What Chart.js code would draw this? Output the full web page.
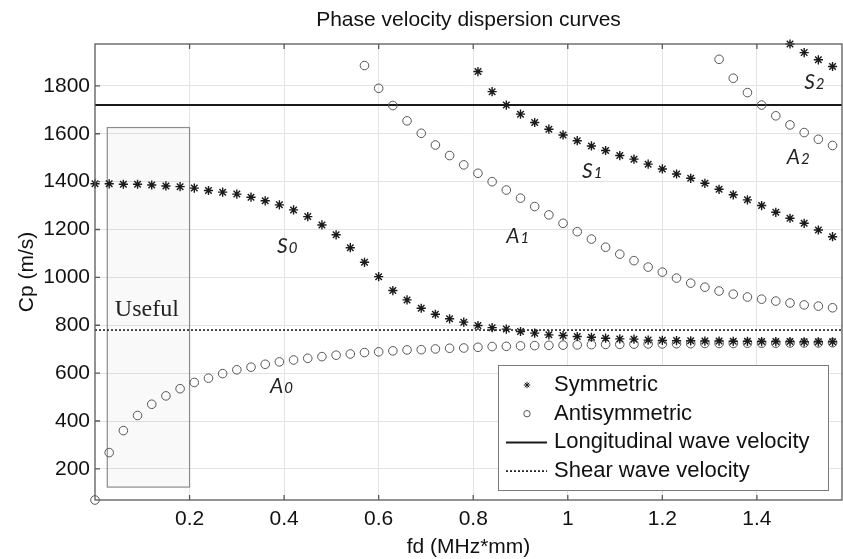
<!DOCTYPE html>
<html>
<head>
<meta charset="utf-8">
<title>Phase velocity dispersion curves</title>
<script src="https://cdn.jsdelivr.net/npm/chart.js@4.4.1/dist/chart.umd.min.js"></script>
<style>
  html, body { margin: 0; padding: 0; background: #fff; overflow: hidden; }
  #wrap { width: 848px; height: 559px; }
</style>
</head>
<body>
<div id="wrap"><canvas id="chart"></canvas></div>
<script>
// fd (MHz*mm) sample points used by the solver
const fdFull = [0, 0.03, 0.06, 0.09, 0.12, 0.15, 0.18, 0.21, 0.24, 0.27, 0.30, 0.33, 0.36, 0.39, 0.42, 0.45, 0.48, 0.51,
  0.54, 0.57, 0.60, 0.63, 0.66, 0.69, 0.72, 0.75, 0.78, 0.81, 0.84, 0.87, 0.90, 0.93, 0.96, 0.99, 1.02, 1.05,
  1.08, 1.11, 1.14, 1.17, 1.20, 1.23, 1.26, 1.29, 1.32, 1.35, 1.38, 1.41, 1.44, 1.47, 1.50, 1.53, 1.56];

// phase velocity Cp (m/s) per mode
const cpS0 = [1391, 1391, 1389, 1389, 1386, 1382, 1379, 1373, 1363, 1356, 1348, 1335, 1320, 1303, 1282, 1254, 1219, 1178,
  1124, 1063, 1003, 945, 906, 871, 846, 827, 813, 799, 790, 784, 774, 767, 760, 757, 753, 750,
  746, 743, 742, 738, 737, 736, 735, 734, 734, 733, 733, 732, 732, 732, 731, 731, 731];
const cpA0 = [70, 268, 360, 423, 470, 505, 535, 561, 579, 598, 614, 625, 637, 647, 655, 662, 669, 675,
  680, 686, 689, 693, 697, 698, 701, 704, 705, 708, 711, 712, 714, 715, 716, 717, 718, 719,
  720, 720, 721, 722, 722, 723, 723, 724, 724, 724, 725, 725, 725, 726, 726, 726, 727];

const fdA1 = [0.57, 0.60, 0.63, 0.66, 0.69, 0.72, 0.75, 0.78, 0.81, 0.84, 0.87, 0.90, 0.93, 0.96, 0.99, 1.02, 1.05,
  1.08, 1.11, 1.14, 1.17, 1.20, 1.23, 1.26, 1.29, 1.32, 1.35, 1.38, 1.41, 1.44, 1.47, 1.50, 1.53, 1.56];
const cpA1 = [1885, 1790, 1718, 1654, 1602, 1553, 1509, 1470, 1435, 1400, 1365, 1331, 1296, 1261, 1226, 1191, 1160,
  1126, 1097, 1070, 1043, 1022, 997, 976, 959, 943, 930, 918, 909, 901, 893, 885, 880, 873];

const fdS1 = [0.81, 0.84, 0.87, 0.90, 0.93, 0.96, 0.99, 1.02, 1.05, 1.08, 1.11, 1.14, 1.17, 1.20, 1.23, 1.26, 1.29,
  1.32, 1.35, 1.38, 1.41, 1.44, 1.47, 1.50, 1.53, 1.56];
const cpS1 = [1860, 1776, 1720, 1682, 1647, 1619, 1595, 1571, 1549, 1530, 1509, 1494, 1473, 1453, 1432, 1414, 1393,
  1368, 1345, 1324, 1300, 1272, 1247, 1226, 1198, 1170];

const fdA2 = [1.32, 1.35, 1.38, 1.41, 1.44, 1.47, 1.50, 1.53, 1.56];
const cpA2 = [1911, 1832, 1772, 1720, 1675, 1637, 1605, 1577, 1551];

const fdS2 = [1.47, 1.50, 1.53, 1.56];
const cpS2 = [1975, 1939, 1909, 1881];

const longitudinalCp = 1720;
const shearCp = 780;

const xTicks = [0.2, 0.4, 0.6, 0.8, 1, 1.2, 1.4];
const yTicks = [200, 400, 600, 800, 1000, 1200, 1400, 1600, 1800];
const xRange = [0, 1.58];
const yRange = [70, 1975];

// mode names and where they are written (fd, Cp)
const modeLetters = ['S', 'A', 'A', 'S', 'A', 'S'];
const modeDigits = ['0', '0', '1', '1', '2', '2'];
const modeFd = [0.385, 0.37, 0.87, 1.03, 1.463, 1.50];
const modeCp = [1102, 518, 1144, 1416, 1474, 1787];

// the "Useful" window
const usefulFd = [0.026, 0.2];
const usefulCp = [124, 1626];
const usefulTextAt = [0.042, 840];

const pts = (xs, ys) => xs.map((x, i) => ({ x, y: ys[i] }));

Chart.defaults.font.family = '"Liberation Sans", Arial, sans-serif';
Chart.defaults.color = '#111';

const decor = {
  id: 'decor',
  beforeDatasetsDraw(chart) {
    const { ctx, scales: { x, y } } = chart;
    const l = x.getPixelForValue(usefulFd[0]), r = x.getPixelForValue(usefulFd[1]);
    const t = y.getPixelForValue(usefulCp[1]), b = y.getPixelForValue(usefulCp[0]);
    ctx.save();
    ctx.fillStyle = 'rgba(0,0,0,0.025)';
    ctx.fillRect(l, t, r - l, b - t);
    ctx.strokeStyle = '#8c8c8c';
    ctx.lineWidth = 1.2;
    ctx.strokeRect(l, t, r - l, b - t);
    ctx.fillStyle = '#222';
    ctx.font = '24px "Liberation Serif", "Times New Roman", serif';
    ctx.textBaseline = 'alphabetic';
    ctx.fillText('Useful', x.getPixelForValue(usefulTextAt[0]), y.getPixelForValue(usefulTextAt[1]));
    ctx.restore();
  },
  afterDatasetsDraw(chart) {
    const { ctx, chartArea: a, scales: { x, y } } = chart;
    ctx.save();
    // axes box + inward ticks
    ctx.strokeStyle = '#5a5a5a';
    ctx.lineWidth = 1.3;
    ctx.strokeRect(a.left, a.top, a.right - a.left, a.bottom - a.top);
    ctx.beginPath();
    xTicks.forEach(v => {
      const px = x.getPixelForValue(v);
      ctx.moveTo(px, a.bottom); ctx.lineTo(px, a.bottom - 5);
      ctx.moveTo(px, a.top); ctx.lineTo(px, a.top + 5);
    });
    yTicks.forEach(v => {
      const py = y.getPixelForValue(v);
      ctx.moveTo(a.left, py); ctx.lineTo(a.left + 5, py);
    });
    ctx.stroke();

    // mode labels
    ctx.fillStyle = '#222';
    ctx.textBaseline = 'alphabetic';
    modeLetters.forEach((m, i) => {
      const px = x.getPixelForValue(modeFd[i]), py = y.getPixelForValue(modeCp[i]);
      ctx.font = 'italic 21px Lato, "Open Sans", sans-serif';
      ctx.fillText(m, px, py);
      const w = ctx.measureText(m).width;
      ctx.font = 'italic 15px Lato, "Open Sans", sans-serif';
      ctx.fillText(modeDigits[i], px + w + 1, py);
    });

    // legend
    const lw = 330, lh = 125;
    const left = a.right - 14 - lw, top = a.bottom - 10 - lh;
    ctx.fillStyle = '#fff';
    ctx.fillRect(left, top, lw, lh);
    ctx.strokeStyle = '#7a7a7a';
    ctx.lineWidth = 1;
    ctx.strokeRect(left + 0.5, top + 0.5, lw, lh);
    ctx.font = '22px "Liberation Sans", Arial, sans-serif';
    ctx.textBaseline = 'middle';
    chart.data.datasets.forEach((ds, i) => {
      const cy = top + 20 + i * 28.7;
      ctx.strokeStyle = ds.borderColor;
      if (ds.showLine) {
        ctx.lineWidth = ds.borderWidth;
        ctx.setLineDash(ds.borderDash || []);
        ctx.beginPath();
        ctx.moveTo(left + 8, cy); ctx.lineTo(left + 49, cy);
        ctx.stroke();
        ctx.setLineDash([]);
      } else {
        ctx.fillStyle = 'rgba(0,0,0,0)';
        Chart.helpers.drawPoint(ctx, { pointStyle: ds.pointStyle, radius: 3.2, borderWidth: 1, rotation: 0 }, left + 29, cy);
      }
      ctx.fillStyle = '#111';
      ctx.fillText(ds.label, left + 56, cy);
    });
    ctx.restore();
  }
};

new Chart(document.getElementById('chart'), {
  type: 'scatter',
  data: {
    datasets: [
      { label: 'Symmetric', data: [...pts(fdFull, cpS0), ...pts(fdS1, cpS1), ...pts(fdS2, cpS2)],
        pointStyle: 'star', pointRadius: 4.6, borderColor: '#1a1a1a', borderWidth: 1.4, clip: false },
      { label: 'Antisymmetric', data: [...pts(fdFull, cpA0), ...pts(fdA1, cpA1), ...pts(fdA2, cpA2)],
        pointStyle: 'circle', pointRadius: 4.3, borderColor: '#555', backgroundColor: 'rgba(0,0,0,0)', borderWidth: 1, clip: false },
      { label: 'Longitudinal wave velocity', data: pts(xRange, [longitudinalCp, longitudinalCp]),
        showLine: true, pointRadius: 0, borderColor: '#1a1a1a', borderWidth: 2 },
      { label: 'Shear wave velocity', data: pts(xRange, [shearCp, shearCp]),
        showLine: true, pointRadius: 0, borderColor: '#222', borderWidth: 1.6, borderDash: [2, 2] }
    ]
  },
  options: {
    responsive: true,
    maintainAspectRatio: false,
    animation: false,
    layout: { padding: 0 },
    plugins: {
      legend: { display: false },
      tooltip: { enabled: false },
      title: {
        display: true, fullSize: false, text: 'Phase velocity dispersion curves',
        font: { size: 21, weight: 'normal', lineHeight: 1.2 }, color: '#111',
        padding: { top: 8, bottom: 10.8 }
      }
    },
    scales: {
      x: {
        type: 'linear', min: xRange[0], max: xRange[1],
        afterBuildTicks: s => { s.ticks = xTicks.map(v => ({ value: v })); },
        afterFit: s => { s.height = 59; },
        grid: { color: '#e3e3e3', drawTicks: false },
        border: { display: false },
        ticks: { padding: 7, font: { size: 21 }, color: '#111', callback: v => String(v) },
        title: { display: true, text: 'fd (MHz*mm)', font: { size: 21, lineHeight: 1 }, color: '#111', padding: { top: 0, bottom: 1 } }
      },
      y: {
        type: 'linear', min: yRange[0], max: yRange[1],
        afterBuildTicks: s => { s.ticks = yTicks.map(v => ({ value: v })); },
        afterFit: s => { s.width = 95; },
        grid: { color: '#e3e3e3', drawTicks: false },
        border: { display: false },
        ticks: { padding: 5, font: { size: 21 }, color: '#111', callback: v => String(v) },
        title: { display: true, text: 'Cp (m/s)', font: { size: 21, lineHeight: 1.2 }, color: '#111', padding: { top: 15, bottom: 0 } }
      }
    }
  },
  plugins: [decor]
});
</script>
</body>
</html>
